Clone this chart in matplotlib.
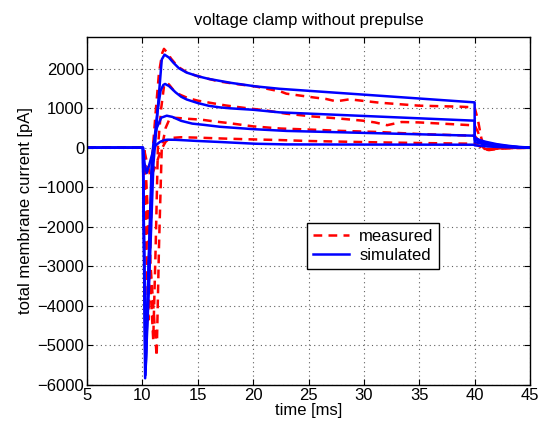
import numpy as np
import matplotlib.pyplot as plt

plt.rcParams['font.family'] = ['Liberation Sans', 'DejaVu Sans']
plt.rcParams['axes.unicode_minus'] = True

# measured currents (red dashed)
t_meas1 = [5, 10.1, 10.35, 10.55, 10.75, 10.95, 11.2, 11.5, 11.8, 11.95, 12.2, 12.6, 13.2, 14.1, 15, 16,
           16.85, 18.5, 20.2, 22.5, 23, 25.4, 26.6, 27.5, 28.7, 31.4, 35, 38.7, 40, 40.3, 40.6, 40.9,
           41.3, 42, 43, 45]
i_meas1 = [0, 0, -2500, -4350, -2200, 0, 900, 1900, 2400, 2500, 2420, 2250, 2050, 1890, 1810, 1740,
           1680, 1610, 1550, 1420, 1367, 1274, 1232, 1173, 1224, 1139, 1063, 1038, 1020, 700, 250, -40,
           -60, -30, -10, 0]

t_meas2 = [5, 10.15, 10.6, 10.98, 11.2, 11.4, 11.7, 11.95, 12.15, 12.4, 12.8, 13.4, 14.1, 15, 16.25,
           17.5, 19.3, 21, 23, 25.4, 27.5, 29.9, 31, 32.1, 33.4, 35, 37, 40, 40.3, 40.6, 40.9, 41.3,
           42, 43, 45]
i_meas2 = [0, 0, -2800, -4860, -2500, 0, 1000, 1550, 1650, 1600, 1460, 1340, 1257, 1190, 1130,
           1070, 1004, 950, 860, 790, 745, 684, 640, 570, 650, 640, 610, 565, 400, 150, -30, -50,
           -25, -10, 0]

t_meas3 = [5, 10.2, 10.7, 11.29, 11.5, 11.75, 12.1, 12.5, 13.2, 14.2, 15.35, 16.5, 17.75, 20, 22.5,
           25.4, 28, 31.4, 35, 38, 40, 40.3, 40.6, 40.9, 41.3, 42, 43, 45]
i_meas3 = [0, 0, -2800, -5280, -2500, 0, 500, 760, 752, 730, 709, 665, 625, 540, 485,
           456, 425, 397, 346, 320, 304, 200, 60, -30, -40, -20, -5, 0]

t_meas4 = [5, 10.1, 10.4, 10.75, 11.2, 11.7, 12.1, 12.5, 13.5, 15, 17.75, 20, 22.3, 25, 31.4, 36,
           40, 40.3, 40.6, 40.9, 41.5, 42.5, 45]
i_meas4 = [0, 0, -350, -750, -450, -50, 150, 245, 265, 255, 228, 210, 195, 170, 135, 115,
           101, 60, 10, -30, -30, -10, 0]

# simulated currents (blue solid)
t_sim1 = [5, 10.05, 10.25, 10.6, 11.0, 11.15, 11.45, 11.75, 12.0, 12.4, 12.8, 13.3, 14, 15.05, 16,
          17, 18, 20.2, 22.4, 26, 31.4, 36, 40, 40.01, 40.5, 41, 42, 43, 44, 45]
i_sim1 = [0, 0, -5830, -3500, -400, 100, 1200, 2230, 2354, 2280, 2150, 2010, 1900, 1805, 1740,
          1690, 1640, 1552, 1490, 1420, 1315, 1225, 1147, 250, 190, 150, 90, 50, 20, 5]

t_sim2 = [5, 10.05, 10.28, 10.55, 10.9, 11.05, 11.35, 11.65, 11.9, 12.05, 12.4, 13, 13.5, 14, 15,
          16, 17, 18, 20, 22.4, 40, 40.01, 40.5, 41, 42, 43, 44, 45]
i_sim2 = [0, 0, -5750, -3200, -300, 100, 900, 1450, 1590, 1612, 1560, 1400, 1290, 1220, 1130,
          1060, 1020, 995, 960, 894, 684, 200, 155, 120, 75, 40, 15, 4]

t_sim3 = [5, 10.05, 10.3, 10.55, 10.85, 11.0, 11.3, 11.7, 12.2, 12.7, 13.5, 14.5, 15.5, 17, 20,
          23, 40, 40.01, 40.5, 41, 42, 43, 44, 45]
i_sim3 = [0, 0, -5600, -3000, -300, 100, 500, 760, 810, 780, 680, 610, 580, 530, 470,
          425, 304, 140, 110, 85, 55, 30, 12, 3]

t_sim4 = [5, 10.05, 10.2, 10.39, 10.6, 10.9, 11.2, 11.6, 12.0, 12.3, 13, 15.05, 17, 20.2, 23, 30,
          40, 40.01, 41, 42, 43, 44, 45]
i_sim4 = [0, 0, -400, -640, -450, -150, 60, 150, 195, 203, 200, 170, 145, 101, 84, 80,
          76, 60, 35, 20, 10, 4, 1]

measured = [(t_meas1, i_meas1), (t_meas2, i_meas2), (t_meas3, i_meas3), (t_meas4, i_meas4)]
simulated = [(t_sim1, i_sim1), (t_sim2, i_sim2), (t_sim3, i_sim3), (t_sim4, i_sim4)]

fig = plt.figure(figsize=(5.4, 4.3), dpi=100)
ax = fig.add_axes([87/540, 45/430, 443/540, 348/430])

for k, (t, i) in enumerate(measured):
    ax.plot(t, i, color='red', lw=1.8, linestyle=(0, (3.5, 2.5)),
            label='measured' if k == 0 else None)
for k, (t, i) in enumerate(simulated):
    ax.plot(t, i, color='blue', lw=1.8, label='simulated' if k == 0 else None)

ax.set_xlim(5, 45)
ax.set_ylim(-6000, 2800)
ax.set_xticks(np.arange(5, 46, 5))
ax.set_yticks(np.arange(-6000, 2001, 1000))
ax.grid(True, color='#606060', linestyle=(0, (1, 3)), linewidth=0.8)
ax.tick_params(direction='in', top=True, right=True, labelsize=12, length=4, pad=2)
for s in ax.spines.values():
    s.set_linewidth(1.0)

ax.set_title('voltage clamp without prepulse', fontsize=12, pad=9)
ax.set_xlabel('time [ms]', fontsize=12, labelpad=0)
ax.set_ylabel('total membrane current [pA]', fontsize=12, labelpad=3)

leg = ax.legend(loc='upper left', bbox_to_anchor=(0.496, 0.466), fontsize=12,
                frameon=True, fancybox=False, edgecolor='black', framealpha=1,
                handlelength=2.2, handletextpad=0.6, borderaxespad=0, borderpad=0.35,
                labelspacing=0.25)
leg.get_frame().set_linewidth(1.0)

fig.savefig('out.png', dpi=100)
